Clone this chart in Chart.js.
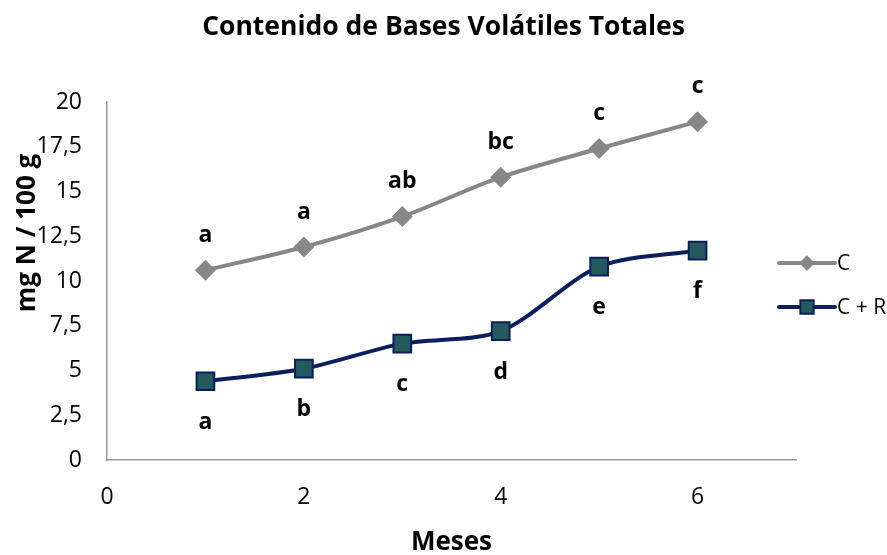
<html lang="es">
<head>
  <meta charset="UTF-8">
  <title>Contenido de Bases Volátiles Totales</title>
  <script src="https://cdn.jsdelivr.net/npm/chart.js"></script>
  <style>
    body { margin: 0; background: white; }
    .wrap { width: 887px; height: 555px; }
  </style>
</head>
<body>
  <div class="wrap"><canvas id="chart" width="887" height="555"></canvas></div>

  <script>
    const meses = [1, 2, 3, 4, 5, 6];
    const valoresC = [10.6, 11.9, 13.6, 15.8, 17.4, 18.9];
    const valoresCR = [4.4, 5.1, 6.5, 7.2, 10.8, 11.7];
    const letrasC = ['a', 'a', 'ab', 'bc', 'c', 'c'];
    const letrasCR = ['a', 'b', 'c', 'd', 'e', 'f'];
    const xTicks = [0, 2, 4, 6];
    const yTicks = [0, 2.5, 5, 7.5, 10, 12.5, 15, 17.5, 20];

    const FONT = "'Open Sans', 'Liberation Sans', sans-serif";
    const gris = '#878787';
    const azul = '#0b1f5f';
    const verde = '#24595e';

    // letters over / under each point
    const letras = {
      id: 'letras',
      afterDatasetsDraw(chart) {
        const ctx = chart.ctx;
        ctx.save();
        ctx.font = 'bold 23px ' + FONT;
        ctx.fillStyle = '#000';
        ctx.textAlign = 'center';
        ctx.textBaseline = 'middle';
        chart.data.datasets.forEach((ds, i) => {
          const meta = chart.getDatasetMeta(i);
          meta.data.forEach((p, j) => {
            ctx.fillText(ds.letras[j], p.x, p.y + ds.letraDy);
          });
        });
        ctx.restore();
      }
    };

    // titles: main one centred on the whole page, y one a bit above the middle
    const titulos = {
      id: 'titulos',
      afterDraw(chart) {
        const ctx = chart.ctx;
        ctx.save();
        ctx.font = 'bold 26.5px ' + FONT;
        ctx.fillStyle = '#000';
        ctx.textAlign = 'center';
        ctx.textBaseline = 'middle';
        ctx.fillText('Contenido de Bases Volátiles Totales', chart.width / 2, 27);
        ctx.translate(28, 233);
        ctx.rotate(-Math.PI / 2);
        ctx.font = 'bold 26px ' + FONT;
        ctx.fillText('mg N / 100 g', 0, 0);
        ctx.restore();
      }
    };

    // legend drawn like excel: line with marker in the middle
    const leyenda = {
      id: 'leyenda',
      afterDraw(chart) {
        const ctx = chart.ctx;
        const x0 = 779, ys = [263, 307];
        chart.data.datasets.forEach((ds, i) => {
          const y = ys[i];
          ctx.save();
          ctx.strokeStyle = ds.borderColor;
          ctx.lineWidth = 4;
          ctx.lineCap = 'round';
          ctx.beginPath();
          ctx.moveTo(x0, y);
          ctx.lineTo(x0 + 56, y);
          ctx.stroke();
          ctx.restore();
          ctx.save();
          ctx.fillStyle = ds.pointBackgroundColor;
          ctx.strokeStyle = ds.pointBorderColor;
          ctx.lineWidth = ds.pointBorderWidth;
          Chart.helpers.drawPoint(ctx, {
            pointStyle: ds.pointStyle,
            radius: ds.pointRadius * 0.75,
            borderWidth: ds.pointBorderWidth
          }, x0 + 28, y);
          ctx.font = '21px ' + FONT;
          ctx.fillStyle = '#000';
          ctx.textBaseline = 'middle';
          ctx.fillText(ds.label, x0 + 58, y + 1);
          ctx.restore();
        });
      }
    };

    new Chart(document.getElementById('chart'), {
      type: 'line',
      data: {
        datasets: [
          {
            label: 'C',
            data: meses.map((m, i) => ({ x: m, y: valoresC[i] })),
            letras: letrasC,
            letraDy: -35,
            borderColor: gris,
            borderWidth: 4,
            tension: 0.3,
            pointStyle: 'rectRot',
            pointRadius: 10.5,
            pointBackgroundColor: gris,
            pointBorderColor: gris,
            pointBorderWidth: 0
          },
          {
            label: 'C + R',
            data: meses.map((m, i) => ({ x: m, y: valoresCR[i] })),
            letras: letrasCR,
            letraDy: 41,
            borderColor: azul,
            borderWidth: 4,
            tension: 0.3,
            pointStyle: 'rect',
            pointRadius: 12.5,
            pointBackgroundColor: verde,
            pointBorderColor: azul,
            pointBorderWidth: 2
          }
        ]
      },
      options: {
        responsive: false,
        animation: false,
        layout: { padding: { top: 102, right: 91, bottom: 0, left: 0 } },
        plugins: {
          legend: { display: false },
          tooltip: { enabled: false },
          title: { display: false }
        },
        scales: {
          x: {
            type: 'linear',
            min: 0,
            max: 7,
            afterBuildTicks: axis => { axis.ticks = xTicks.map(v => ({ value: v })); },
            afterFit: s => { s.height = 95; },
            grid: { display: false, drawTicks: false },
            border: { color: '#9a9a9a', width: 1.5 },
            ticks: { color: '#000', font: { family: FONT, size: 23, lineHeight: 1 }, padding: 26 },
            title: {
              display: true,
              text: 'Meses',
              color: '#000',
              font: { family: FONT, size: 26, weight: 'bold', lineHeight: 1 },
              padding: { top: 0, bottom: -1 }
            }
          },
          y: {
            min: 0,
            max: 20,
            afterBuildTicks: axis => { axis.ticks = yTicks.map(v => ({ value: v })); },
            afterFit: s => { s.width = 107; },
            grid: { display: false, drawTicks: false },
            border: { color: '#9a9a9a', width: 1.5 },
            ticks: {
              color: '#000',
              font: { family: FONT, size: 23, lineHeight: 1 },
              padding: 25,
              callback: v => String(v).replace('.', ',')
            }
          }
        }
      },
      plugins: [letras, titulos, leyenda]
    });
  </script>
</body>
</html>
